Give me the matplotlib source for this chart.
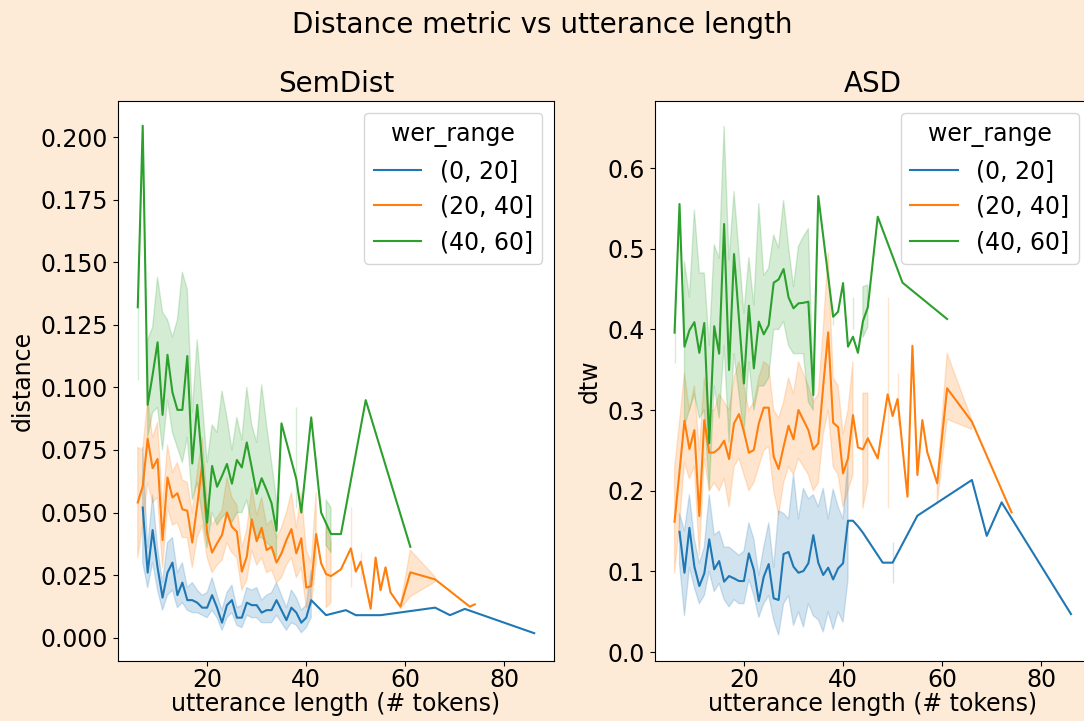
import numpy as np
import matplotlib
matplotlib.use("Agg")
import matplotlib.pyplot as plt
from matplotlib.axes import Axes

nan = np.nan

BG_COLOR = "#fdebd8"
COLORS = ["#1f77b4", "#ff7f0e", "#2ca02c"]
WER_LABELS = ["(0, 20]", "(20, 40]", "(40, 60]"]

# utterance length (tokens) per wer bucket
x_low = list(range(7, 44)) + [44, 48, 50, 55, 66, 69, 72, 86]
x_mid = list(range(6, 46)) + [47, 49, 50, 51, 53, 54, 55, 56, 57, 59, 61, 66, 73, 74]
x_high = list(range(6, 19)) + list(range(20, 36)) + list(range(38, 46)) + [47, 52, 61]

# SemDist: mean distance and 95% ci bounds
sem_low = [.052, .026, .043, .028, .016, .026, .030, .017, .022, .015, .015, .014, .012, .012,
           .017, .012, .006, .013, .015, .008, .008, .014, .013, .013, .010, .011, .011, .015,
           .011, .007, .012, .010, .006, .008, .015, .013, .011,
           .009, .011, .009, .009, .012, .009, .0115, .0018]
sem_low_lo = [.030, .020, .030, .019, .011, .017, .019, .012, .014, .011, .010, .010, .009, .008,
              .011, .008, .003, .008, .010, .005, .004, .009, .008, .008, .006, .006, .006, .009,
              .006, .003, .006, .005, .002, .004, .008, nan, nan,
              nan, nan, .0085, nan, nan, nan, nan, nan]
sem_low_hi = [.076, .036, .057, .036, .022, .038, .040, .026, .030, .020, .022, .019, .017, .018,
              .024, .017, .011, .018, .021, .012, .013, .020, .019, .020, .015, .017, .018, .022,
              .017, .012, .019, .016, .011, .013, .027, nan, nan,
              nan, nan, .0095, nan, nan, nan, nan, nan]

sem_mid = [.054, .0605, .0795, .0677, .0714, .039, .064, .056, .0577, .0513, .0507, .038, .053, .069,
           .0417, .034, .0377, .041, .050, .0443, .0423, .0264, .0324, .0473, .0385, .0439, .035,
           .0363, .030, .0337, .039, .0434, .0337, .0397, .020, .0206, .0414, .0297, .0254, .0246,
           .0273, .0357, .0264, .0304, .0116, .032, .019, .0281, .0181, .0124, .0261, .0233, .0124, .0133]
sem_mid_lo = [.032, .045, .062, .054, .056, .028, .052, .045, .046, .040, .040, .028, .040, .045,
              .032, .026, .029, .031, .038, .034, .032, .019, .023, .035, .029, .032, .026,
              .027, .022, .024, .029, .032, .024, .028, .012, .013, .030, nan, .012, .014,
              nan, .0204, nan, .023, nan, nan, nan, nan, nan, .0115, .0164, .0223, nan, nan]
sem_mid_hi = [.076, .075, .095, .080, .086, .052, .077, .066, .070, .063, .062, .050, .066, .080,
              .055, .045, .048, .051, .064, .056, .053, .036, .043, .060, .049, .056, .045,
              .047, .040, .044, .050, .058, .044, .058, .035, .030, .058, nan, .045, .038,
              nan, .0523, nan, .0343, nan, nan, nan, nan, nan, .013, .035, .0243, nan, nan]

sem_high = [.132, .2045, .093, .105, .118, .089, .113, .098, .091, .091, .1125, .0696, .093,
            .046, .0686, .0603, .0646, .0694, .0615, .071, .068, .078, .068, .0575, .0637, .059,
            .0537, .0427, .0856,
            .0633, .050, .069, .088, .069, .050, .0457, .0414,
            .0414, .0949, .0363]
sem_high_lo = [.103, nan, .080, .090, .092, .075, .095, .082, .076, .070, .080, .055, .062,
               .036, .050, .045, .048, .050, .046, .050, .050, .055, .045, .040, .040, .038,
               .036, .032, nan,
               .052, nan, nan, nan, .066, nan, .037, .034,
               nan, nan, nan]
sem_high_hi = [.152, nan, .119, .124, .144, .130, .127, .120, .127, .146, .139, .090, .119,
               .070, .085, .082, .0985, .088, .075, .088, .079, .100, .085, .078, .101, .085,
               .070, .055, nan,
               .092, nan, nan, nan, .072, nan, .055, .052,
               nan, nan, nan]

# ASD: mean dtw and 95% ci bounds
asd_low = [.149, .0983, .154, .1058, .0818, .0975, .1397, .1025, .1128, .0872, .0942, .0913, .088,
           .088, .1223, .1017, .0632, .0934, .1091, .0666, .0645, .1215, .124, .1058, .0983, .1004,
           .110, .145, .1107, .0955, .1046, .090, .1037, .110, .1628, .1628, .156,
           .148, .1108, .1108, .169, .2133, .144, .1856, .047]
asd_low_lo = [.110, .045, .105, .080, .060, .070, .100, .075, .085, .065, .056, .065, .060,
              .060, .090, .070, .043, .060, .070, .040, .021, .060, .070, .033, .050, .031,
              .060, .045, .040, .025, .050, .028, .050, .037, .090, nan, nan,
              nan, nan, .085, nan, nan, nan, nan, nan]
asd_low_hi = [.172, .150, .195, .140, .110, .130, .195, .145, .150, .130, .130, .125, .120,
              .125, .160, .140, .095, .130, .160, .105, .175, .172, .165, .220, .165, .203,
              .190, .195, .180, .203, .165, .202, .180, .165, .238, nan, nan,
              nan, nan, .137, nan, nan, nan, nan, nan]

asd_mid = [.1616, .224, .2868, .2517, .2752, .1686, .2876, .2471, .2475, .2526, .262, .2393, .2835,
           .295, .2732, .2471, .2505, .2835, .303, .303, .2422, .2269, .2546, .2806, .2637, .3001,
           .2876, .2752, .2513, .2588, .330, .3964, .2843, .279, .2215, .240, .2938, .2538, .2513, .265,
           .2401, .3195, .2926, .3137, .1926, .3798, .2195, .2876, .2476, .2092, .327, .2856, .187, .1732]
asd_mid_lo = [.0975, .160, .235, .215, .230, .120, .240, .200, .210, .200, .215, .180, .230,
              .240, .220, .200, .210, .230, .250, .255, .200, .170, .210, .230, .220, .240,
              .230, .220, .200, .210, .270, .300, .230, .220, .180, .200, .220, nan, .178, .210,
              nan, .178, nan, .2815, nan, nan, nan, nan, nan, .183, .2885, .2761, nan, nan]
asd_mid_hi = [.228, .285, .345, .300, .330, .250, .340, .300, .300, .320, .310, .300, .340,
              .360, .330, .300, .310, .340, .360, .355, .300, .290, .310, .340, .320, .360,
              .345, .330, .310, .320, .400, .495, .340, .330, .270, .300, .360, nan, .321, .321,
              nan, .4406, nan, .3463, nan, nan, nan, nan, nan, .212, .3704, .2877, nan, nan]

asd_high = [.396, .5555, .3786, .399, .409, .371, .408, .259, .404, .370, .5307, .3497, .4935,
            .333, .4294, .3517, .4096, .3939, .4054, .4579, .462, .4749, .4398, .4262, .4323, .433,
            .4344, .3187, .5654,
            .4157, .422, .4575, .3786, .391, .371, .410, .4275,
            .5398, .458, .4129]
asd_high_lo = [.358, nan, .280, .300, .320, .290, .300, .200, .330, .290, .380, .260, .370,
               .270, .360, .300, .330, .330, .340, .400, .400, .410, .380, .370, .370, .370,
               .310, .300, nan,
               .405, nan, nan, nan, .400, nan, .390, .403,
               nan, nan, nan]
asd_high_hi = [.449, nan, .484, .440, .548, .470, .470, .380, .505, .488, .652, .486, .571,
               .420, .489, .430, .556, .467, .476, .517, .501, .560, .503, .453, .503, .515,
               .525, .330, nan,
               .425, nan, nan, nan, .440, nan, .453, .455,
               nan, nan, nan]


def draw_panel(ax: Axes, series: list, title: str, ylabel: str, ylim: tuple) -> None:
    for (x, mean, lo, hi), color, label in zip(series, COLORS, WER_LABELS):
        ax.fill_between(x, lo, hi, color=color, alpha=0.2, linewidth=1)
        ax.plot(x, mean, color=color, linewidth=1.5, label=label)

    ax.set_xlim(2, 90)
    ax.set_ylim(*ylim)
    ax.set_title(title, fontsize=20)
    ax.set_xlabel("utterance length (# tokens)", fontsize=17, labelpad=0.5)
    ax.set_ylabel(ylabel, fontsize=17)
    ax.set_xticks([20, 40, 60, 80])
    ax.tick_params(labelsize=17)
    ax.tick_params(axis="x", pad=1.5)
    ax.legend(title="wer_range", loc="upper right", fontsize=17, title_fontsize=17)


fig = plt.figure(figsize=(10.84, 7.21), dpi=100, facecolor=BG_COLOR)
ax_sem = fig.add_axes([0.1088, 0.0836, 0.4023, 0.7767])
ax_asd = fig.add_axes([0.6040, 0.0836, 0.4023, 0.7767])

draw_panel(ax_sem,
           [(x_low, sem_low, sem_low_lo, sem_low_hi),
            (x_mid, sem_mid, sem_mid_lo, sem_mid_hi),
            (x_high, sem_high, sem_high_lo, sem_high_hi)],
           "SemDist", "distance", (-0.0092, 0.2145))
draw_panel(ax_asd,
           [(x_low, asd_low, asd_low_lo, asd_low_hi),
            (x_mid, asd_mid, asd_mid_lo, asd_mid_hi),
            (x_high, asd_high, asd_high_lo, asd_high_hi)],
           "ASD", "dtw", (-0.0108, 0.6836))

fig.suptitle("Distance metric vs utterance length", fontsize=20, y=0.985)
fig.savefig("out.png", dpi=100, facecolor=BG_COLOR)
